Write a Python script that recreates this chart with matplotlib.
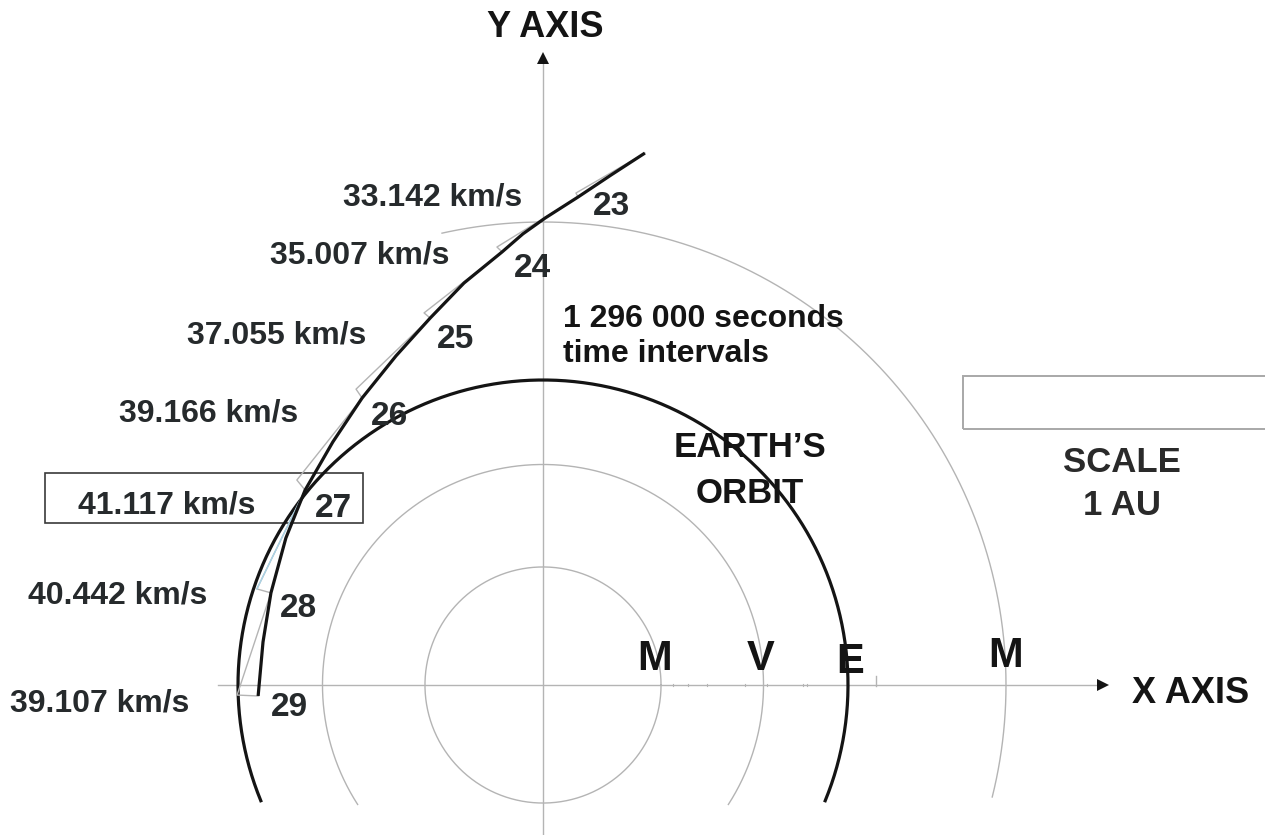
import numpy as np
import matplotlib.pyplot as plt
from matplotlib.patches import Rectangle

plt.rcParams['font.family'] = ['Liberation Sans', 'DejaVu Sans']

# orbits (AU)
planet_labels = ['M', 'V', 'E', 'M']
orbit_radius = [0.387, 0.723, 1.0, 1.518]

# comet path (AU)
traj_x = [0.334, 0.223, 0.115, 0.007, -0.066, -0.134, -0.259, -0.370, -0.482,
          -0.593, -0.689, -0.780, -0.843, -0.892, -0.918, -0.934]
traj_y = [1.744, 1.672, 1.600, 1.531, 1.479, 1.420, 1.318, 1.203, 1.079,
          0.941, 0.797, 0.639, 0.482, 0.302, 0.141, -0.036]

# time steps: predicted point (off the path) and corrected point (on the path)
step_no = ['23', '24', '25', '26', '27', '28', '29']
speed = ['33.142', '35.007', '37.055', '39.166', '41.117', '40.442', '39.107']
pred_x = [0.108, -0.151, -0.390, -0.613, -0.807, -0.938, -1.003]
pred_y = [1.613, 1.436, 1.220, 0.970, 0.672, 0.315, -0.033]
corr_x = [0.115, -0.134, -0.370, -0.593, -0.780, -0.892, -0.934]
corr_y = [1.600, 1.420, 1.203, 0.941, 0.639, 0.302, -0.036]

# small marks on the x axis (AU)
axis_marks = [0.426, 0.475, 0.538, 0.662, 0.734, 0.852, 0.866]

AU = 305.0
CX, CY = 543, 685


def px(x, y):
    return (x - CX) / AU, (CY - y) / AU


fig = plt.figure(figsize=(12.65, 8.35), dpi=100)
ax = fig.add_axes([0, 0, 1, 1])
ax.set_xlim(-CX / AU, (1265 - CX) / AU)
ax.set_ylim((CY - 835) / AU, CY / AU)
ax.axis('off')

grey = '#b4b4b4'
ink = '#141414'
txt = '#262a2c'

# axes with arrows
x0, _ = px(218, 0)
x1, _ = px(1100, 0)
ax.plot([x0, x1], [0, 0], color=grey, lw=1.0)
ax.plot([x1 + 0.01], [0], marker='>', color=ink, ms=9, mew=0)
_, y0 = px(0, 835)
_, y1 = px(0, 60)
ax.plot([0, 0], [y0, y1], color=grey, lw=1.0)
ax.plot([0], [y1 + 0.005], marker='^', color=ink, ms=9, mew=0)
for m in axis_marks:
    ax.plot([m, m], [-0.004, 0.004], color=grey, lw=0.8)
ax.plot([1.092, 1.092], [-0.002, 0.028], color=grey, lw=1.0)

# orbits
arc_from = [0, -32.8, -22.3, -14.0]
arc_to = [360, 212.8, 202.3, 102.6]
for r, a, b, i in zip(orbit_radius, arc_from, arc_to, range(4)):
    t = np.radians(np.linspace(a, b, 400))
    if i == 2:
        ax.plot(r * np.cos(t), r * np.sin(t), color=ink, lw=2.3)
    else:
        ax.plot(r * np.cos(t), r * np.sin(t), color=grey, lw=1.0)

# step construction (zig-zag)
zx = [traj_x[0]]
zy = [traj_y[0]]
for i in range(len(step_no)):
    zx += [pred_x[i], corr_x[i]]
    zy += [pred_y[i], corr_y[i]]
ax.plot(zx, zy, color=grey, lw=1.0)
ax.plot([corr_x[4], pred_x[5]], [corr_y[4], pred_y[5]], color='#a9d3e6', lw=1.0)

# comet path
ax.plot(traj_x, traj_y, color=ink, lw=2.3, solid_capstyle='butt', solid_joinstyle='round')

# speed labels and step numbers
speed_pos = [(433, 205), (360, 263), (277, 343), (209, 422), (167, 513), (118, 603), (100, 712)]
num_pos = [(612, 215), (532, 277), (455, 348), (390, 425), (333, 517), (298, 617), (289, 716)]
for s, n, sp, npos in zip(speed, step_no, speed_pos, num_pos):
    ax.text(*px(*sp), s + ' km/s', ha='center', va='baseline', fontsize=23,
            fontweight='bold', color=txt)
    ax.text(*px(*npos), n, ha='center', va='baseline', fontsize=24,
            fontweight='bold', color=txt)

# box around the peak speed
bx0, by0 = px(45, 523)
bx1, by1 = px(363, 473)
ax.add_patch(Rectangle((bx0, by0), bx1 - bx0, by1 - by0, fill=False,
                       ec='#3a3a3a', lw=1.2))

# scale bar box: 1 AU wide
sx0, sy0 = px(963, 429)
_, sy1 = px(0, 376)
ax.add_patch(Rectangle((sx0, sy0), 1.0, sy1 - sy0, fill=False, ec='#a8a8a8', lw=1.4))

ax.text(*px(563, 327), '1 296 000 seconds', ha='left', va='baseline', fontsize=23,
        fontweight='bold', color=ink)
ax.text(*px(563, 362), 'time intervals', ha='left', va='baseline', fontsize=23,
        fontweight='bold', color=ink)
ax.text(*px(750, 457), 'EARTH\u2019S', ha='center', va='baseline', fontsize=25,
        fontweight='bold', color=ink)
ax.text(*px(750, 503), 'ORBIT', ha='center', va='baseline', fontsize=25,
        fontweight='bold', color=ink)
ax.text(*px(1122, 472), 'SCALE', ha='center', va='baseline', fontsize=25,
        fontweight='bold', color='#2a2a2a')
ax.text(*px(1122, 515), '1 AU', ha='center', va='baseline', fontsize=25,
        fontweight='bold', color='#2a2a2a')
ax.text(*px(545, 37), 'Y AXIS', ha='center', va='baseline', fontsize=26,
        fontweight='bold', color=ink)
ax.text(*px(1132, 703), 'X AXIS', ha='left', va='baseline', fontsize=26,
        fontweight='bold', color=ink)

label_pos = [(655, 670), (761, 670), (850, 673), (1006, 667)]
for lab, p in zip(planet_labels, label_pos):
    ax.text(*px(*p), lab, ha='center', va='baseline', fontsize=30,
            fontweight='bold', color=ink)

fig.savefig('out.png', dpi=100)
